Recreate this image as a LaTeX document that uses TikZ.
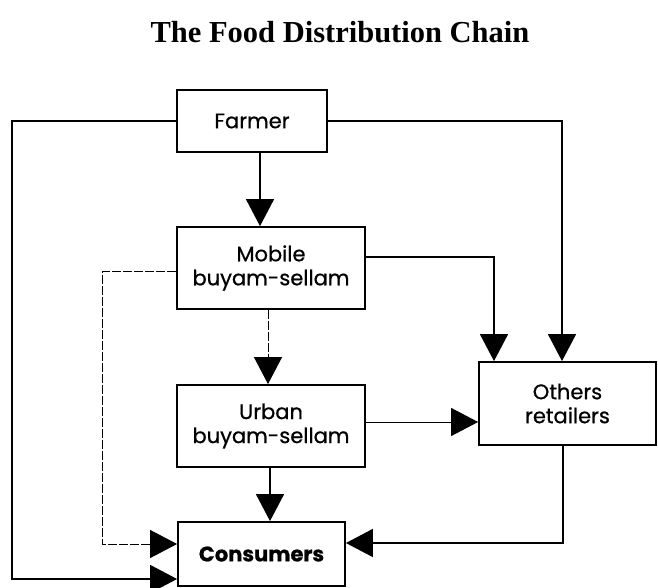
\documentclass[tikz,border=0pt]{standalone}
\usepackage{fontspec}
\usepackage{tikz}
\usetikzlibrary{arrows.meta}
\newfontfamily\titlefont{Liberation Serif}
\newfontfamily\boxfont[FakeBold=0.7]{Poppins}

\begin{document}
\begin{tikzpicture}[node distance=150pt]
	\tikzstyle{box} = [rectangle, draw=black, line width=1.8pt, inner sep=0pt,
	text centered, align=center, font=\boxfont\fontsize{21}{24}\selectfont]
	\tikzstyle{arrow} = [line width=1.4pt, -{Triangle[length=27pt,width=28pt]}]
	\tikzstyle{thinarrow} = [arrow, line width=1pt, dash pattern=on 9pt off 2pt]
	\useasboundingbox (-252pt,-467pt) rectangle (406pt,121pt);
	\node (title) [anchor=base, font=\titlefont\bfseries\fontsize{30.5}{34}\selectfont]
	at (88pt,78pt) {The Food Distribution Chain};
	\node (farmer) [box, minimum width=150pt, minimum height=62pt] at (0,0) {Farmer};
	\node (mobile) [box, minimum width=188pt, minimum height=82pt, below of=farmer,
	node distance=147pt, xshift=19pt] {Mobile\\buyam-sellam};
	\node (urban) [box, minimum width=188pt, minimum height=82pt, below of=mobile,
	node distance=158pt] {Urban\\buyam-sellam};
	\node (consumers) [box, minimum width=167pt, minimum height=64pt, below of=urban,
	node distance=128pt, xshift=-9.5pt] {\bfseries Consumers};
	\node (others) [box, minimum width=177pt, minimum height=83pt, right of=urban,
	node distance=296.5pt, yshift=22.5pt] {Others\\retailers};
	% farmer outlets
	\draw [arrow] ([xshift=8pt]farmer.south) -- ([xshift=8pt]farmer.south |- mobile.north);
	\draw [arrow] (farmer.west) -- ++(-164pt,0) |- ([yshift=-25pt]consumers.west);
	\draw [arrow] (farmer.east) -| ([xshift=-5.5pt]others.north);
	% mobile outlets
	\draw [arrow] ([yshift=11pt]mobile.east) -| ([xshift=-73.5pt]others.north);
	\draw [thinarrow] ([yshift=-4pt]mobile.west) -- ++(-74pt,0) |- ([yshift=10pt]consumers.west);
	\draw [thinarrow] ([xshift=-3pt]mobile.south) -- ([xshift=-3pt]mobile.south |- urban.north);
	% urban outlets
	\draw [arrow] ([xshift=-1pt]urban.south) -- ([xshift=-1pt]urban.south |- consumers.north);
	\draw [arrow, line width=1pt] ([yshift=4pt]urban.east) -- ([yshift=4pt]urban.east -| others.west);
	% retailers to consumers
	\draw [arrow] ([xshift=-4.5pt]others.south) |- ([yshift=11pt]consumers.east);
\end{tikzpicture}
\end{document}
